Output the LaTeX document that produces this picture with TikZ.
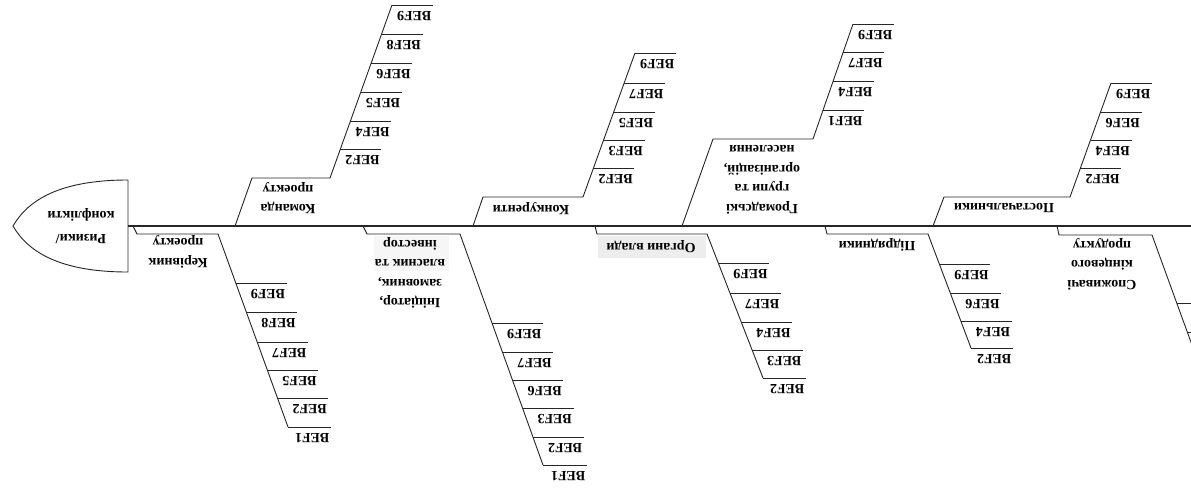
\documentclass[tikz,border=0pt]{standalone}
\usepackage{fontspec}
\setmainfont{Liberation Serif}
\usetikzlibrary{calc}
\tikzset{
  bone/.style={draw=black!85, line width=0.9pt, line join=miter},
  spineline/.style={draw=black!85, line width=1.3pt},
  riblab/.style={font=\fontsize{14}{16}\selectfont\bfseries, inner sep=0pt, rotate=180, anchor=west},
  catlab/.style={font=\fontsize{14}{19.5}\selectfont\bfseries, inner sep=0pt, rotate=180, align=center},
  headlab/.style={font=\fontsize{14}{23}\selectfont\bfseries, inner sep=0pt, rotate=180, align=center},
}
\newcommand\ribset[5]{%
  \foreach \yy/\ll/\lab in {#5}{%
    \pgfmathsetmacro\xs{#1+(\yy-#2)/(#4-#2)*(#3-#1)}%
    \pgfmathsetmacro\xe{\xs+\ll}%
    \coordinate (rs) at (\xs,\yy);
    \coordinate (re) at (\xe,\yy);
    \draw[bone] (rs) -- (re);
    \node[riblab] (rl) at ($(re)+(-1.5,11)$) {\lab};
  }}
\begin{document}
\begin{tikzpicture}[x=1pt,y=-1pt]
\useasboundingbox (0,0) rectangle (1191,493);
\clip (0,0) rectangle (1191,493);
\fill[white] (0,0) rectangle (1191,493);

% head
\coordinate (headR) at (128,226);
\coordinate (tail) at (1195,226);
\draw[bone] (128,180) .. controls (60,180) and (28,200) .. (13,226)
            .. controls (28,252) and (60,272) .. (128,272) -- cycle;
\node[headlab] (head) at (81,226) {Ризики/\\конфлікти};
\draw[spineline] (headR) -- (tail);

% ---------- upper branches ----------
% Команда проекту
\coordinate (a0) at (235,226); \coordinate (a1) at (252,178);
\coordinate (a2) at (330,178); \coordinate (a3) at (392,5);
\draw[bone] (a0) -- (a1) -- (a2) -- (a3);
\node[catlab] (la) at (288,198) {Команда\\проекту};
\ribset{330}{178}{392}{5}{149/41/BEF2,121/41/BEF4,92/41/BEF5,63/41/BEF6,34/41/BEF8,5/41/BEF9}

% Конкуренти
\coordinate (b0) at (473,226); \coordinate (b1) at (483,197);
\coordinate (b2) at (583,197); \coordinate (b3) at (635,53);
\draw[bone] (b0) -- (b1) -- (b2) -- (b3);
\node[catlab] (lb) at (531,209) {Конкуренти};
\ribset{583}{197}{635}{53}{168/41/BEF2,140/41/BEF3,112/41/BEF5,83/41/BEF7,53/41/BEF9}

% Громадські групи
\coordinate (c0) at (682,226); \coordinate (c1) at (713,139);
\coordinate (c2) at (813,139); \coordinate (c3) at (853,24);
\draw[bone] (c0) -- (c1) -- (c2) -- (c3);
\node[catlab] (lc) at (762,180) {Громадські\\групи та\\організацій,\\населення};
\ribset{813}{139}{853}{24}{110/41/BEF1,81/41/BEF4,52/41/BEF7,24/41/BEF9}

% Постачальники
\coordinate (d0) at (933,226); \coordinate (d1) at (944,197);
\coordinate (d2) at (1070,197); \coordinate (d3) at (1111,83);
\draw[bone] (d0) -- (d1) -- (d2) -- (d3);
\node[catlab] (ld) at (1004,208) {Постачальники};
\ribset{1070}{197}{1111}{83}{168/41/BEF2,140/41/BEF4,112/41/BEF6,83/41/BEF9}

% ---------- lower branches ----------
% Керівник проекту
\coordinate (e0) at (133,226); \coordinate (e1) at (137,234);
\coordinate (e2) at (218,234); \coordinate (e3) at (288,427);
\draw[bone] (e0) -- (e1) -- (e2) -- (e3);
\node[catlab] (le) at (178,252) {Керівник\\проекту};
\ribset{218}{234}{288}{427}{283/51/BEF9,312/51/BEF8,342/51/BEF7,370/51/BEF5,398/51/BEF2,427/43/BEF1}

% Ініціатор
\coordinate (f0) at (363,226); \coordinate (f1) at (367,234);
\coordinate (f2) at (460,234); \coordinate (f3) at (543,465);
\fill[gray!7] (374,236) rectangle (449,271);
\draw[bone] (f0) -- (f1) -- (f2) -- (f3);
\node[catlab] (lf) at (410,273) {Ініціатор,\\замовник,\\власник та\\інвестор};
\ribset{460}{234}{543}{465}{323/51/BEF9,352/51/BEF7,380/51/BEF6,408/51/BEF3,437/51/BEF2,465/44/BEF1}

% Органи влади
\coordinate (g0) at (595,226); \coordinate (g1) at (597,234);
\coordinate (g2) at (707,234); \coordinate (g3) at (763,378);
\fill[gray!14] (598,236) rectangle (706,258);
\draw[bone] (g0) -- (g1) -- (g2) -- (g3);
\node[catlab] (lg) at (651,247) {Органи влади};
\ribset{707}{234}{763}{378}{263/51/BEF9,293/51/BEF7,322/51/BEF4,350/51/BEF3,378/43/BEF2}

% Підрядники
\coordinate (h0) at (825,226); \coordinate (h1) at (827,234);
\coordinate (h2) at (928,234); \coordinate (h3) at (971,348);
\draw[bone] (h0) -- (h1) -- (h2) -- (h3);
\node[catlab] (lh) at (877,245) {Підрядники};
\ribset{928}{234}{971}{348}{264/51/BEF9,293/51/BEF6,321/51/BEF4,348/42/BEF2}

% Споживачі кінцевого продукту
\coordinate (i0) at (1057,226); \coordinate (i1) at (1059,235);
\coordinate (i2) at (1152,235); \coordinate (i3) at (1200,367);
\draw[bone] (i0) -- (i1) -- (i2) -- (i3);
\node[catlab] (li) at (1102,264) {Споживачі\\кінцевого\\продукту};
\ribset{1152}{235}{1200}{367}{303/51/BEF9}
\coordinate (i4) at (1187,332); \coordinate (i5) at (1238,332);
\draw[bone] (i4) -- (i5);
\end{tikzpicture}
\end{document}
